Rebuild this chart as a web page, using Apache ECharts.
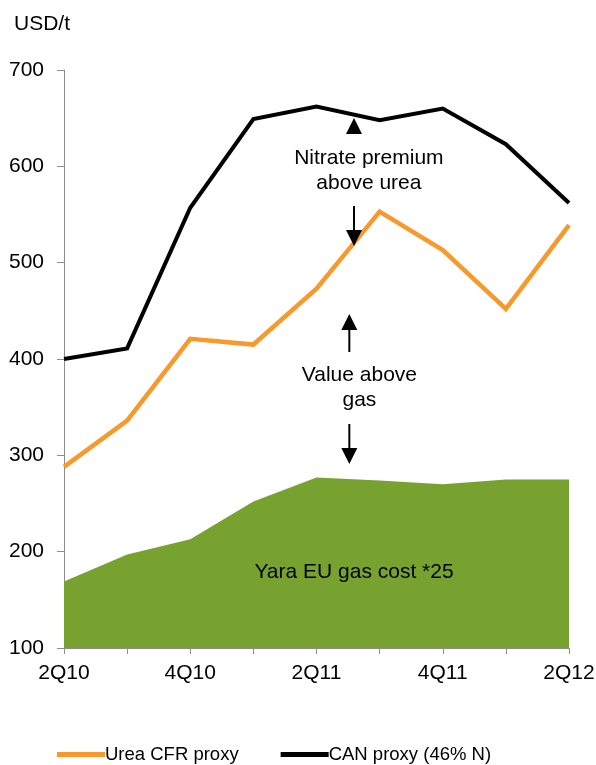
<!DOCTYPE html>
<html><head><meta charset="utf-8">
<script src="https://cdn.jsdelivr.net/npm/echarts@6/dist/echarts.min.js"></script>
<style>html,body{margin:0;padding:0;background:#fff}#c{width:596px;height:765px}</style>
</head><body><div id="c"></div>
<script>
const categories = ['2Q10','3Q10','4Q10','1Q11','2Q11','3Q11','4Q11','1Q12','2Q12'];
const gasCost = [169, 197, 213, 252, 277, 274, 270, 275, 275];
const urea = [288, 336, 421, 415, 473, 553, 513, 452, 539];
const can = [400, 411, 557, 649, 662, 648, 660, 623, 562];
const yTicks = {min: 100, max: 700, interval: 100};

const FONT = '"Liberation Sans", Arial, sans-serif';
const chart = echarts.init(document.getElementById('c'), null, {renderer: 'canvas'});
const axisColor = '#8c8c8c';
chart.setOption({
  animation: false,
  textStyle: {fontFamily: FONT},
  grid: {left: 64, right: 27, top: 70, bottom: 117, containLabel: false, outerBoundsMode: 'none'},
  xAxis: {
    type: 'category', data: categories, boundaryGap: false,
    axisLine: {lineStyle: {color: axisColor, width: 1}},
    axisTick: {show: true, interval: 0, length: 6, inside: false, lineStyle: {color: axisColor}},
    axisLabel: {interval: 1, color: '#000', fontSize: 21, fontFamily: FONT, margin: 15, hideOverlap: false},
    splitLine: {show: false}
  },
  yAxis: {
    type: 'value', min: yTicks.min, max: yTicks.max, interval: yTicks.interval,
    name: 'USD/t', nameLocation: 'end', nameGap: 46,
    nameTextStyle: {color: '#000', fontSize: 21, fontFamily: FONT, align: 'left', verticalAlign: 'middle', padding: [0, 0, 0, -50]},
    axisLine: {show: true, lineStyle: {color: axisColor, width: 1}},
    axisTick: {show: true, length: 7, lineStyle: {color: axisColor}},
    axisLabel: {color: '#000', fontSize: 21, fontFamily: FONT, margin: 20},
    splitLine: {show: false}
  },
  legend: {
    top: 740, left: 52, itemGap: 42, itemWidth: 48, itemHeight: 5,
    textStyle: {color: '#000', fontSize: 18.5, fontFamily: FONT, padding: [0, 0, 0, -5]},
    data: [{name: 'Urea CFR proxy', icon: 'rect'}, {name: 'CAN proxy (46% N)', icon: 'rect'}]
  },
  series: [
    {name: 'Yara EU gas cost *25', type: 'line', data: gasCost, symbol: 'none',
     lineStyle: {width: 0, color: '#78A22F'}, itemStyle: {color: '#78A22F'},
     areaStyle: {color: '#78A22F', opacity: 1}, z: 1},
    {name: 'Urea CFR proxy', type: 'line', data: urea, symbol: 'none',
     lineStyle: {width: 4.5, color: '#F7992C', join: 'miter'}, itemStyle: {color: '#F7992C'}, z: 2},
    {name: 'CAN proxy (46% N)', type: 'line', data: can, symbol: 'none',
     lineStyle: {width: 4, color: '#000', join: 'miter'}, itemStyle: {color: '#000'}, z: 3}
  ]
});

// annotations positioned through the chart's own scales
function px(xIdx, y) {
  const i0 = Math.floor(xIdx), f = xIdx - i0;
  const a = chart.convertToPixel({gridIndex: 0}, [i0, y]);
  const b = chart.convertToPixel({gridIndex: 0}, [Math.min(i0 + 1, categories.length - 1), y]);
  return [a[0] + (b[0] - a[0]) * f, a[1]];
}
function arrow(xIdx, yFrom, yTip) {
  const p0 = px(xIdx, yFrom), p1 = px(xIdx, yTip);
  const dir = p1[1] < p0[1] ? -1 : 1;
  const head = 16, hw = 8;
  const out = [];
  if (Math.abs(p1[1] - p0[1]) > head + 1) {
    out.push({type: 'line', shape: {x1: p0[0], y1: p0[1], x2: p1[0], y2: p1[1] - dir * head + dir}, style: {stroke: '#000', lineWidth: 2}, z: 100});
  }
  out.push({type: 'polygon', shape: {points: [[p1[0], p1[1]], [p1[0] - hw, p1[1] - dir * head], [p1[0] + hw, p1[1] - dir * head]]}, style: {fill: '#000'}, z: 100});
  return out;
}
function label(xIdx, y, text) {
  const p = px(xIdx, y);
  return {type: 'text', x: p[0], y: p[1], style: {text: text, fill: '#000', font: '21px ' + FONT, align: 'center', verticalAlign: 'middle', lineHeight: 25}, z: 100};
}
const g = [].concat(
  arrow(4.594, 634.5, 650.2),
  arrow(4.594, 558.8, 517.3),
  arrow(4.52, 407.3, 446.7),
  arrow(4.52, 332.5, 291),
  [label(4.83, 595.7, 'Nitrate premium\nabove urea'),
   label(4.68, 370, 'Value above\ngas'),
   label(4.594, 178.9, 'Yara EU gas cost *25')]
);
chart.setOption({graphic: g});
</script></body></html>
